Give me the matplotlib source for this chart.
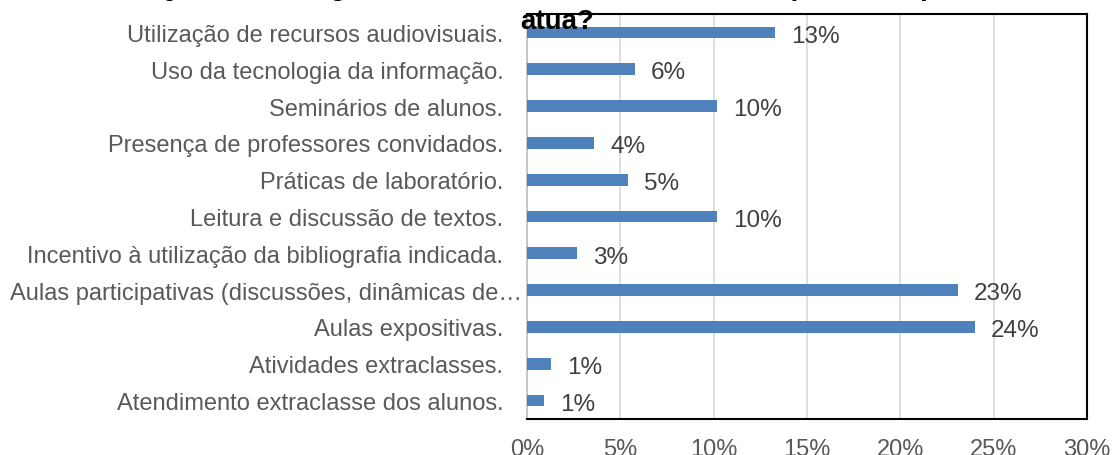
import numpy as np
import matplotlib
matplotlib.use("Agg")
from matplotlib import pyplot as plt
from matplotlib.transforms import ScaledTranslation

plt.rcParams['font.family'] = ['Liberation Sans', 'DejaVu Sans']

# categorias de baixo para cima
categorias = [
    "Atendimento extraclasse dos alunos.",
    "Atividades extraclasses.",
    "Aulas expositivas.",
    "Aulas participativas (discussões, dinâmicas de\u2026",
    "Incentivo à utilização da bibliografia indicada.",
    "Leitura e discussão de textos.",
    "Práticas de laboratório.",
    "Presença de professores convidados.",
    "Seminários de alunos.",
    "Uso da tecnologia da informação.",
    "Utilização de recursos audiovisuais.",
]
valores = [0.9, 1.3, 24.0, 23.1, 2.7, 10.2, 5.4, 3.6, 10.2, 5.8, 13.3]
xticks = [0, 5, 10, 15, 20, 25, 30]

W, H = 1115, 456
fig = plt.figure(figsize=(W / 100, H / 100), dpi=100)
ax = fig.add_axes([527 / W, 1 - 420 / H, (1087 - 527) / W, (420 - 15) / H])

y = np.arange(len(categorias))
ax.barh(y, valores, height=0.32, color='#4f81bd', zorder=3)
for yi, v in zip(y, valores):
    ax.annotate(f"{round(v)}%", (v, yi), xytext=(11.5, -2.3), textcoords='offset points',
                va='center', ha='left', fontsize=17.5, color='#404040')

ax.set_xlim(0, 30)
ax.set_ylim(-0.5, 10.5)
ax.set_xticks(xticks)
ax.set_xticklabels([f"{t}%" for t in xticks], fontsize=17, color='#595959')
ax.set_yticks(y)
ax.set_yticklabels(categorias, fontsize=17, color='#595959')
ax.tick_params(axis='y', length=0, pad=17)
ax.tick_params(axis='x', length=0, pad=14)
ax.grid(axis='x', color='#d9d9d9', linewidth=1.2, zorder=0)

# o rótulo truncado chega quase até o eixo
lab = ax.get_yticklabels()[3]
lab.set_transform(lab.get_transform() + ScaledTranslation(0.19, 0, fig.dpi_scale_trans))

for s in ['top', 'right', 'bottom']:
    ax.spines[s].set_color('black')
    ax.spines[s].set_linewidth(1.5)
ax.spines['left'].set_color('#bfbfbf')
ax.spines['left'].set_linewidth(1.2)

fig.text(0.5, 1 - 29 / H,
         "Quais estratégias de ensino você utiliza na disciplina em que\natua?",
         ha='center', va='baseline', fontsize=20, fontweight='bold',
         linespacing=1.42, zorder=5)

fig.savefig("out.png", dpi=100)
